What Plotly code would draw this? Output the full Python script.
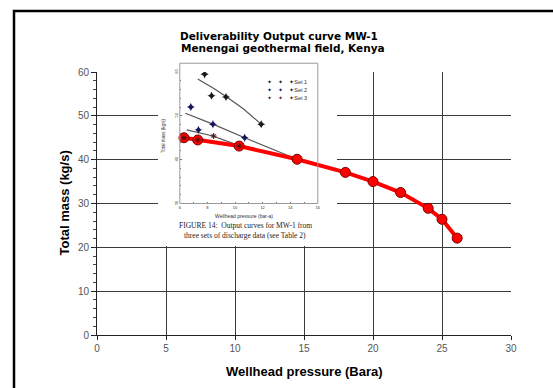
import plotly.graph_objects as go

# ---- data ----
red_x = [6.3, 7.3, 10.3, 14.5, 18.0, 20.0, 22.0, 24.0, 25.0, 26.1]
red_y = [45.0, 44.5, 43.1, 40.1, 37.1, 35.0, 32.5, 28.9, 26.4, 22.1]

set1_x = [7.8, 8.3, 9.35, 11.9]
set1_y = [59.5, 54.6, 54.3, 48.1]
set2_x = [6.8, 7.35, 8.4, 10.7]
set2_y = [52.0, 46.8, 48.1, 45.0]
set3_x = [6.3, 7.3, 8.45, 10.3]
set3_y = [45.0, 44.5, 45.4, 43.1]

fit1_x = [7.3, 8.5, 9.4, 10.6, 11.9]
fit1_y = [58.4, 56.2, 54.3, 51.6, 48.1]
fit2_x = [6.4, 8.4, 10.7, 14.5]
fit2_y = [50.6, 48.1, 45.0, 40.1]
fit3_x = [6.5, 8.4, 10.3]
fit3_y = [46.8, 45.4, 43.2]

x_ticks = [0, 5, 10, 15, 20, 25, 30]
y_ticks = [0, 10, 20, 30, 40, 50, 60]
inset_x_ticks = [6, 8, 10, 12, 14, 16]
inset_y_ticks = [30, 40, 50, 60]

W, H = 553, 388
L, R, T, B = 97, 42, 72, 53
PW, PH = W - L - R, H - T - B

def px(xp):
    return (xp - L) / PW

def py(yp):
    return (H - B - yp) / PH

fig = go.Figure()

fit_style = dict(color="#555555", width=1.2)
for fx, fy in [(fit1_x, fit1_y), (fit2_x, fit2_y), (fit3_x, fit3_y)]:
    fig.add_trace(go.Scatter(x=fx, y=fy, mode="lines", line=fit_style,
                             showlegend=False, hoverinfo="skip"))

fig.add_trace(go.Scatter(
    x=red_x, y=red_y, mode="lines+markers",
    line=dict(color="#ff0000", width=4),
    marker=dict(size=10, color="#ff0000", line=dict(color="#7a0000", width=1)),
    showlegend=False))

# inset set markers on inset axes (same scale)
fig.add_trace(go.Scatter(x=set1_x, y=set1_y, mode="markers", xaxis="x2", yaxis="y2",
                         marker=dict(symbol="star-diamond", size=6, color="#1a1a1a"),
                         showlegend=False))
fig.add_trace(go.Scatter(x=set2_x, y=set2_y, mode="markers", xaxis="x2", yaxis="y2",
                         marker=dict(symbol="star-diamond", size=6, color="#16165c"),
                         showlegend=False))
fig.add_trace(go.Scatter(x=set3_x, y=set3_y, mode="markers", xaxis="x2", yaxis="y2",
                         marker=dict(symbol="asterisk-open", size=5, color="#4a1010",
                                     line=dict(color="#4a1010", width=1)),
                         showlegend=False))

font = "Liberation Sans, Arial, sans-serif"
tfont = "DejaVu Sans, sans-serif"
serif = "Liberation Serif, Times New Roman, serif"

shapes = [
    # white inset image area, above gridlines, below traces
    dict(type="rect", xref="x", yref="y", x0=4.42, x1=17.39, y0=20.3, y1=63.5,
         fillcolor="white", line=dict(width=0), layer="between"),
    # inset box
    dict(type="rect", xref="paper", yref="paper", x0=6/30, x1=16/30, y0=0.5, y1=62/60,
         line=dict(color="#999999", width=1), layer="above"),
    # outer frame
    dict(type="rect", xref="paper", yref="paper", x0=px(14), x1=px(575), y0=py(400), y1=py(11),
         line=dict(color="black", width=2.5), layer="above"),
]

legend_items = [("Set 1", "#1a1a1a", 82), ("Set 2", "#16165c", 90), ("Set 3", "#6a1f1f", 98)]
annotations = [
    dict(text="<b>Deliverability Output curve MW-1</b>", x=px(279), y=py(36),
         xref="paper", yref="paper", showarrow=False, font=dict(family=tfont, size=10.5, color="black"),
         xanchor="center", yanchor="middle"),
    dict(text="<b>Menengai geothermal field, Kenya</b>", x=px(283), y=py(47.5),
         xref="paper", yref="paper", showarrow=False, font=dict(family=tfont, size=10.5, color="black"),
         xanchor="center", yanchor="middle"),
    dict(text="<b>Total mass (kg/s)</b>", x=px(64), y=0.5, textangle=-90,
         xref="paper", yref="paper", showarrow=False, font=dict(family=font, size=13, color="black"),
         xanchor="center", yanchor="middle"),
    dict(text="<b>Wellhead pressure (Bara)</b>", x=0.5, y=py(371),
         xref="paper", yref="paper", showarrow=False, font=dict(family=font, size=13, color="black"),
         xanchor="center", yanchor="middle"),
    dict(text="FIGURE 14:  Output curves for MW-1 from", x=px(245), y=py(225),
         xref="paper", yref="paper", showarrow=False, font=dict(family=serif, size=7.5, color="#222"),
         xanchor="center", yanchor="middle"),
    dict(text="three sets of discharge data (see Table 2)", x=px(245), y=py(235),
         xref="paper", yref="paper", showarrow=False, font=dict(family=serif, size=7.5, color="#222"),
         xanchor="center", yanchor="middle"),
    dict(text="Total mass (kg/s)", x=px(163), y=py(136), textangle=-90,
         xref="paper", yref="paper", showarrow=False, font=dict(family=font, size=4.5, color="#333"),
         xanchor="center", yanchor="middle"),
    dict(text="Wellhead pressure (bar-a)", x=px(244), y=py(216),
         xref="paper", yref="paper", showarrow=False, font=dict(family=font, size=5, color="#333"),
         xanchor="center", yanchor="middle"),
]
for name, col, yy in legend_items:
    annotations.append(dict(
        text=f'<span style="color:{col}">✦    ✦    ✦</span>{name}', x=px(265), y=py(yy),
        xref="paper", yref="paper", showarrow=False, font=dict(family=font, size=5.5, color="#333"),
        xanchor="left", yanchor="middle"))

fig.update_layout(
    width=W, height=H,
    margin=dict(l=L, r=R, t=T, b=B, pad=0),
    paper_bgcolor="white", plot_bgcolor="rgba(0,0,0,0)",
    showlegend=False,
    font=dict(family=font),
    xaxis=dict(range=[0, 30], tickvals=x_ticks, showgrid=True, gridcolor="#3a3a3a", gridwidth=1,
               zeroline=False, showline=True, linecolor="#222", linewidth=1,
               ticks="outside", ticklen=4, tickcolor="#222",
               tickfont=dict(size=10, color="#555"), fixedrange=True),
    yaxis=dict(range=[0, 60], tickvals=y_ticks, showgrid=True, gridcolor="#3a3a3a", gridwidth=1,
               zeroline=False, showline=True, linecolor="#222", linewidth=1,
               ticks="outside", ticklen=5, tickcolor="#222",
               minor=dict(dtick=2, ticks="outside", ticklen=3, tickcolor="#444", showgrid=False),
               tickfont=dict(size=10, color="#555"), fixedrange=True),
    xaxis2=dict(domain=[6/30, 16/30], anchor="y2", range=[6, 16], tickvals=inset_x_ticks,
                showgrid=False, zeroline=False, showline=False,
                ticks="inside", ticklen=2, tickcolor="#777",
                minor=dict(dtick=1, ticks="inside", ticklen=1.5, tickcolor="#777"),
                tickfont=dict(size=4, color="#333"), fixedrange=True),
    yaxis2=dict(domain=[0.5, 1.0], anchor="x2", range=[30, 60], tickvals=inset_y_ticks,
                showgrid=False, zeroline=False, showline=False,
                ticks="inside", ticklen=2, tickcolor="#777", tickangle=-90,
                minor=dict(dtick=2, ticks="inside", ticklen=1.5, tickcolor="#777"),
                tickfont=dict(size=4, color="#333"), fixedrange=True),
    shapes=shapes,
    annotations=annotations,
)

fig.write_html("out.html", config={"displayModeBar": False},
               post_script="document.body.style.margin='0';")
